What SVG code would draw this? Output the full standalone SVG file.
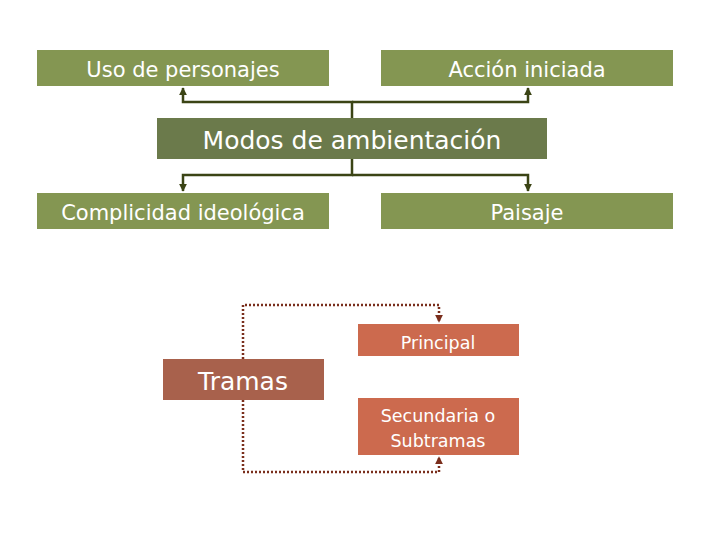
<svg xmlns="http://www.w3.org/2000/svg" width="728" height="546" viewBox="0 0 728 546">
<defs>
<style>
.g{fill:#849652}
.t{font-family:"DejaVu Sans",Verdana,sans-serif;fill:#ffffff;text-anchor:middle}
.c{fill:none;stroke:#3b4415;stroke-width:2.5}
.d{fill:none;stroke:#7a2e1c;stroke-width:2.5;stroke-dasharray:2 2}
</style>
<marker id="a" viewBox="0 0 10 10" refX="9" refY="5" markerWidth="3.2" markerHeight="3.2" orient="auto"><path d="M0,0L10,5L0,10z" fill="#3b4415"/></marker>
<marker id="b" viewBox="0 0 10 10" refX="9" refY="5" markerWidth="3.2" markerHeight="3.2" orient="auto"><path d="M0,0L10,5L0,10z" fill="#7a2e1c"/></marker>
</defs>
<rect width="728" height="546" fill="#ffffff"/>
<g id="connectors">
<path class="c" d="M352,118V102H183V88" marker-end="url(#a)"/>
<path class="c" d="M352,102H528V88" marker-end="url(#a)"/>
<path class="c" d="M352,159V175H183V191" marker-end="url(#a)"/>
<path class="c" d="M352,175H528V191" marker-end="url(#a)"/>
<path class="d" d="M243,359V305H439V322" marker-end="url(#b)"/>
<path class="d" d="M243,400V472H439V457" marker-end="url(#b)"/>
</g>
<g id="uso"><rect class="g" x="37" y="50" width="292" height="36"/><text class="t" x="183" y="77" font-size="21">Uso de personajes</text></g>
<g id="accion"><rect class="g" x="381" y="50" width="292" height="36"/><text class="t" x="527" y="77" font-size="21">Acción iniciada</text></g>
<g id="modos"><rect x="157" y="118" width="390" height="41" fill="#6b7a4b"/><text class="t" x="352" y="149" font-size="25">Modos de ambientación</text></g>
<g id="complicidad"><rect class="g" x="37" y="193" width="292" height="36"/><text class="t" x="183" y="220" font-size="21">Complicidad ideológica</text></g>
<g id="paisaje"><rect class="g" x="381" y="193" width="292" height="36"/><text class="t" x="527" y="220" font-size="21">Paisaje</text></g>
<g id="tramas"><rect x="163" y="359" width="161" height="41" fill="#a8614c"/><text class="t" x="243" y="390" font-size="25">Tramas</text></g>
<g id="principal"><rect x="358" y="324" width="161" height="32" fill="#cc6a4e"/><text class="t" x="438" y="349" font-size="17.5">Principal</text></g>
<g id="secundaria"><rect x="358" y="398" width="161" height="57" fill="#cc6a4e"/><text class="t" x="438" y="422" font-size="17.5">Secundaria o</text><text class="t" x="438" y="447" font-size="17.5">Subtramas</text></g>
</svg>
